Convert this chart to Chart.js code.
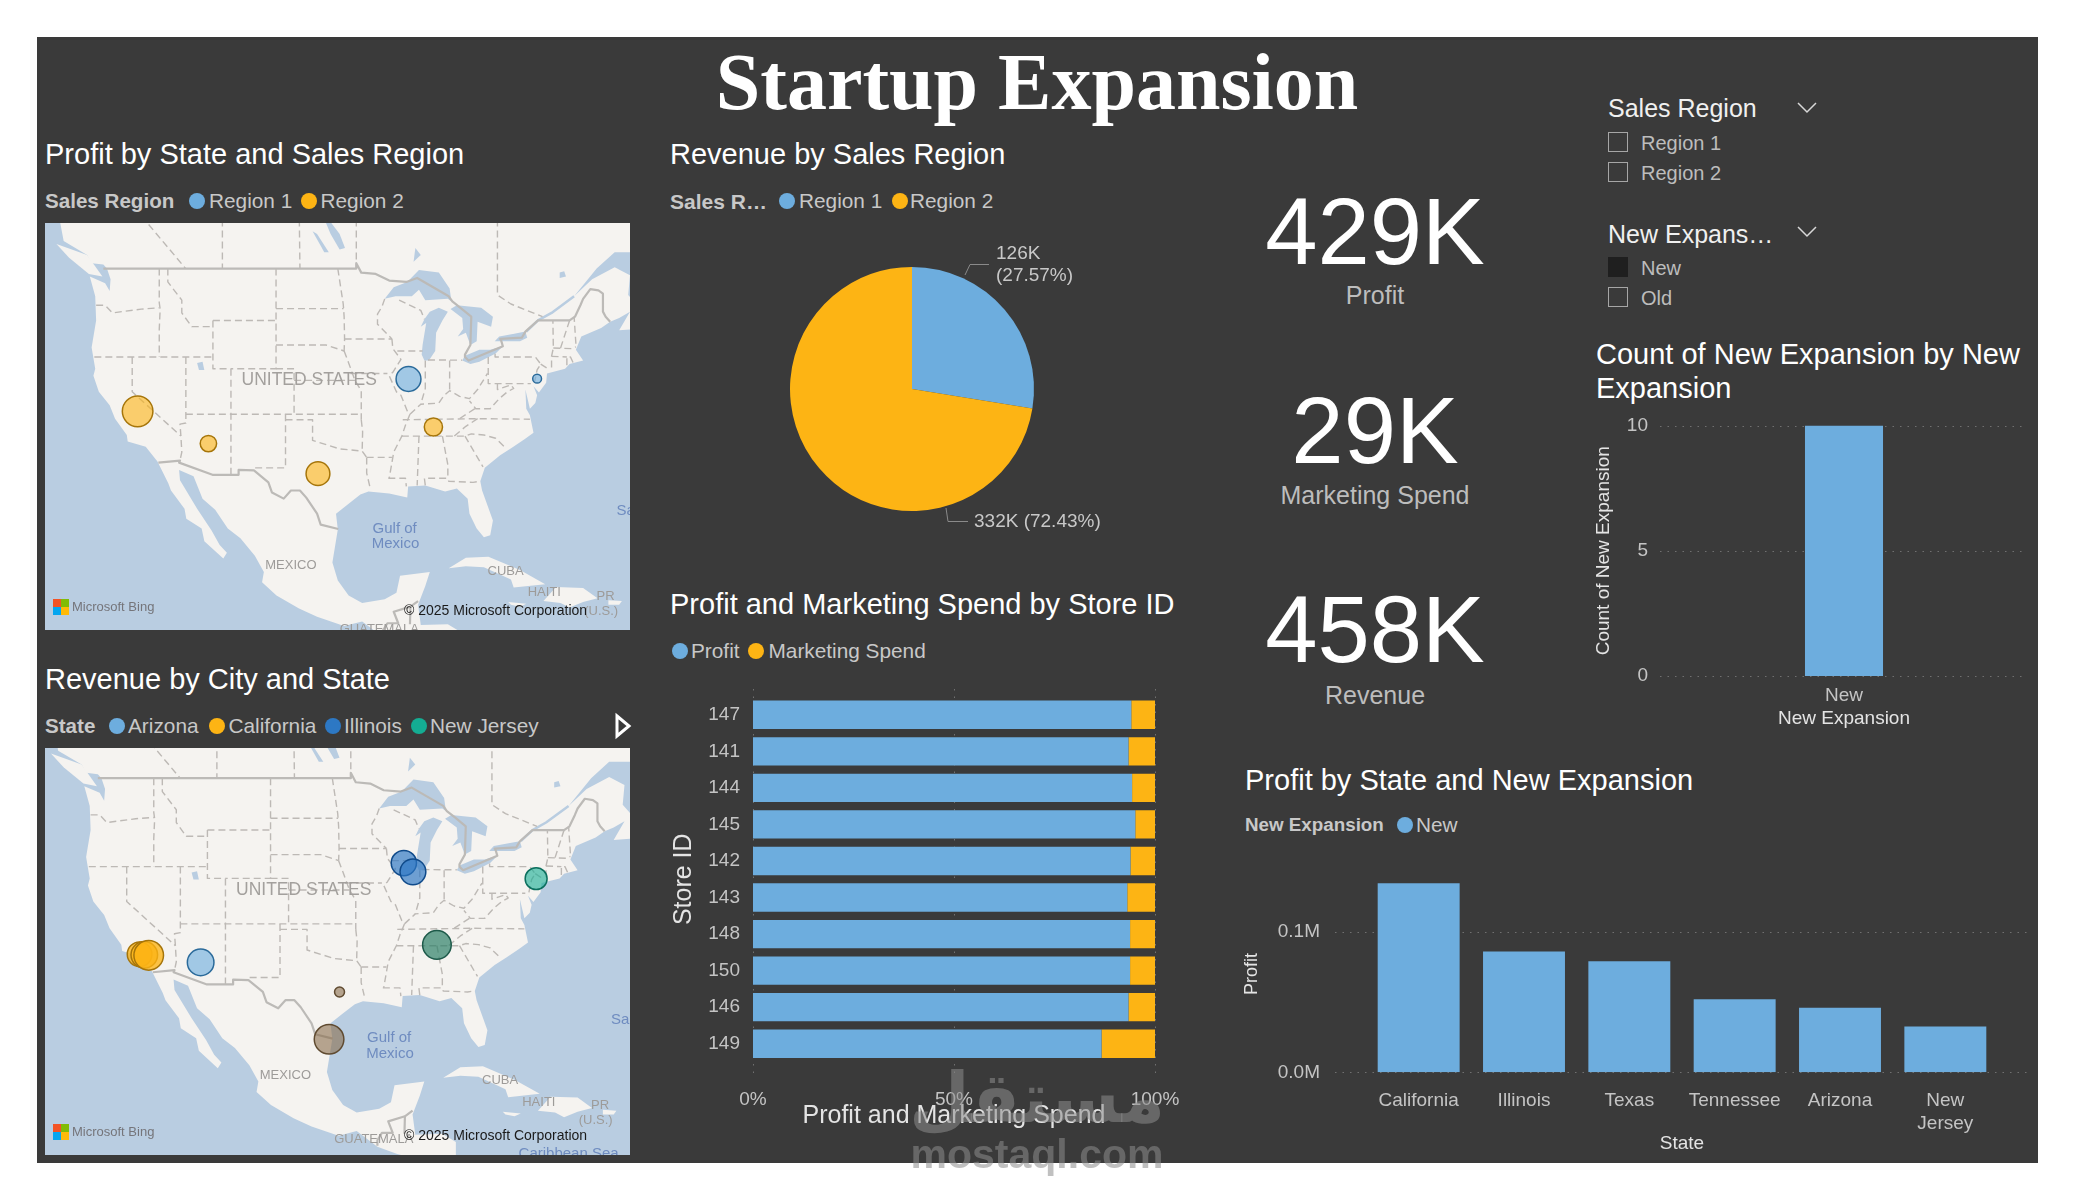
<!DOCTYPE html>
<html>
<head>
<meta charset="utf-8">
<title>Startup Expansion</title>
<script src="https://cdn.jsdelivr.net/npm/chart.js"></script>
<style>
  html, body { margin: 0; padding: 0; background: #fff; overflow: hidden; }
  #page { position: relative; width: 2075px; height: 1200px; font-family: "Liberation Sans", Arial, sans-serif; }
  #panel { position: absolute; left: 37px; top: 37px; width: 2001px; height: 1126px; background: #3a3a3a; }
  #page canvas { position: absolute; }
  .t { position: absolute; white-space: nowrap; line-height: 1; transform: translateY(-50%); }
  .dot { position: absolute; width: 16px; height: 16px; border-radius: 50%; transform: translate(-50%, -50%); }
  .box { position: absolute; width: 18px; height: 18px; border: 1.5px solid #a6a6a6; }
  #page svg { position: absolute; overflow: visible; }
</style>
</head>
<body>
<div id="page"><div id="panel"></div></div>
<script>
// ---- values ----
const regions = ['Region 1', 'Region 2'];
const regionRevenue = [126270, 331730];

const states = ['California', 'Illinois', 'Texas', 'Tennessee', 'Arizona', 'New Jersey'];
const stateTickLabels = ['California', 'Illinois', 'Texas', 'Tennessee', 'Arizona', ['New', 'Jersey']];
const stateProfit = [134400, 86000, 79000, 52000, 46000, 32500];
const stateRegion = ['Region 2', 'Region 1', 'Region 2', 'Region 2', 'Region 2', 'Region 1'];
const stateLon = [-119.4, -89.36, -99.4, -86.6, -111.55, -75.1];
const stateLat = [37.26, 40.12, 31.44, 35.84, 34.3, 40.15];
const profitTicks = [0, 100000];

const cityState = ['California', 'California', 'California', 'Arizona', 'Illinois', 'Illinois', 'New Jersey', 'Tennessee', 'Texas', 'Texas'];
const cityRevenue = [43000, 50000, 62000, 50000, 45000, 47000, 34000, 58000, 7000, 62000];
const cityLon = [-118.57, -118.05, -117.56, -111.8, -89.27, -88.26, -74.6, -85.6, -96.4, -97.56];
const cityLat = [34.2, 34.15, 34.1, 33.44, 42.3, 41.56, 40.98, 35.08, 30.6, 25.88];

const storeIds = ['147', '141', '144', '145', '142', '143', '148', '150', '146', '149'];
const profitShare = [94.1, 93.4, 94.3, 95.1, 93.9, 93.1, 93.8, 93.8, 93.4, 86.7];
const marketingShare = [5.9, 6.6, 5.7, 4.9, 6.1, 6.9, 6.2, 6.2, 6.6, 13.3];

const expansionTypes = ['New'];
const expansionCount = [10];

const kpiValues = ['429K', '29K', '458K'];
const kpiNames = ['Profit', 'Marketing Spend', 'Revenue'];

// ---- base map geography, lon/lat pairs ----
const landMain = [[-128.2,53],[-127.6,51],[-125,50],[-124.5,49.4],[-123.2,49.3],[-122.8,49],[-122.4,48.2],[-122.5,47.3],[-123,47.9],[-124.7,48.4],[-124.1,46.9],[-124,45],[-124.5,42.8],[-124.1,41],[-124.3,40.4],[-123.7,39],[-122.5,37.8],[-121.9,36.6],[-120.6,35.1],[-120.5,34.5],[-118.5,34],[-117.2,32.6],[-116,30.5],[-115.7,29.8],[-114.2,28],[-114,27],[-112.3,26],[-112,24.7],[-109.9,22.9],[-109.5,23.5],[-110.3,24.3],[-111.2,25.8],[-112.8,28],[-114.7,30.8],[-114.8,31.8],[-113.2,31.2],[-112.2,29],[-110.8,27.9],[-109.4,26],[-108,25],[-106.4,23.2],[-105.4,21.5],[-105.6,20.4],[-104,19],[-101.5,17.6],[-99.5,16.7],[-96.5,15.7],[-94.5,16.2],[-92.2,14.5],[-90,13.7],[-87.5,13],[-85,11.5],[-84,10],[-83.5,11],[-83.5,15],[-85,15.9],[-88,15.8],[-88.3,18],[-87.5,20],[-87,21.5],[-90.3,21.1],[-90.7,19.3],[-92,18.6],[-94.5,18.2],[-96,19],[-97.2,20.6],[-97.8,22.5],[-97.2,25.9],[-97.4,27.5],[-96,28.5],[-94.7,29.4],[-93.8,29.7],[-91.5,29.5],[-89.5,29.1],[-89.4,30.2],[-87.5,30.3],[-85.3,29.7],[-84,30],[-82.8,29],[-82.6,27.5],[-81.8,26],[-81,25.1],[-80.3,25.3],[-80,26.8],[-81.2,29.8],[-81.4,30.7],[-80.9,32],[-79.2,33.2],[-77.9,33.9],[-76.5,34.7],[-75.5,35.3],[-75.9,36.9],[-76.3,37.5],[-76.4,39.2],[-75.9,37.5],[-75.3,38],[-75.1,38.7],[-75.5,39.5],[-74.9,38.95],[-74.1,39.8],[-74,40.6],[-72,41],[-71.5,41.4],[-70,41.7],[-70.8,42.6],[-70.2,43.7],[-68,44.4],[-67,44.9],[-66,45.2],[-64.8,45.7],[-66,44.2],[-64,44.3],[-61,45.3],[-60,46.2],[-60.5,47],[-62,45.9],[-64,46.2],[-65,47],[-64.8,48.5],[-66.5,49.1],[-69,48.2],[-71,46.9],[-68.5,49],[-66.5,50.2],[-60,50.2],[-60,54],[-128.2,54]];
const islands = [
  [[-128.4,50.8],[-125,50],[-123.3,48.4],[-124.8,48.6],[-127,49.8]],
  [[-84.9,21.9],[-83,23],[-80.5,23.1],[-77,21.7],[-74.2,20.2],[-77.7,19.85],[-78,20.7],[-81,22],[-83,22.1]],
  [[-74.4,18.4],[-73,19.9],[-70,19.8],[-68.4,18.7],[-70,18.3],[-71.5,17.7],[-72.5,18.2]],
  [[-78.3,18.3],[-76.3,18.1],[-77,17.8],[-78,18]],
  [[-67.2,18.5],[-65.7,18.4],[-66,18],[-67.2,18]]
];
const lakes = [
  [[-92,46.7],[-90.8,46.9],[-89,46.9],[-88.2,47.4],[-87.5,46.6],[-85,46.7],[-84.6,46.5],[-84.8,47.5],[-86,48.7],[-88.2,48.9],[-89.5,48],[-91,47.6]],
  [[-87.6,41.7],[-87.1,41.7],[-86.4,42.5],[-86.3,44],[-85.6,45],[-85,45.7],[-86,46],[-87,45.7],[-87.6,45.1],[-88,44.5],[-87.4,44.8],[-87.8,43],[-87.9,42.2]],
  [[-84.7,45.9],[-83.4,45.2],[-83.3,44.3],[-83.9,43.7],[-83,44],[-82.5,43],[-81.8,43.3],[-81.7,44.9],[-80.2,44.5],[-80,45.3],[-81.3,46],[-84,46.2]],
  [[-83.4,41.7],[-82.5,41.4],[-81.5,41.6],[-79.7,42.3],[-78.9,42.9],[-80.3,42.6],[-81.5,42.6],[-83.1,42.1]],
  [[-79.8,43.3],[-79,43.3],[-77,43.3],[-76.2,43.6],[-76.4,44.1],[-77.5,43.95],[-79.3,43.7]],
  [[-97,50.4],[-96.4,50.5],[-97,51.5],[-98.8,53],[-99,53],[-98,51.5]],
  [[-98.7,50.2],[-98.2,50.2],[-99.5,51.5],[-100,51.7]],
  [[-88.8,49.5],[-88,50],[-88.6,50.5]],
  [[-112.8,41.5],[-112.2,41.6],[-112,40.9],[-112.6,40.9]],
  [[-72.6,48.3],[-71.9,48.4],[-72.1,48.8],[-72.6,48.7]]
];
const stLawrence = [[-76.3,44.1],[-75,45],[-73.5,45.6],[-71,46.9]];
const countryLines = [
  [[-123.2,49],[-95.15,49],[-95.15,49.4],[-94.6,48.7],[-93,48.6],[-91.5,48.1],[-89.6,48],[-88.4,48.3],[-84.9,46.9],[-84.5,46.5],[-83.6,46],[-82.4,45.3],[-82.5,43],[-83.1,42.2],[-83.1,42],[-82.7,41.7],[-78.9,42.9],[-79.1,43.4],[-79.2,43.5],[-76.8,43.6],[-76.4,44.1],[-75,45],[-71.5,45],[-70.9,45.3],[-70.3,46.2],[-70,46.7],[-69.2,47.45],[-68.3,47.35],[-67.8,47.1],[-67.8,45.7],[-67.5,45.3],[-67,44.9]],
  [[-117.1,32.5],[-114.7,32.7],[-114.8,32.5],[-111.1,31.33],[-108.2,31.33],[-108.2,31.8],[-106.5,31.75],[-104.9,30.6],[-104.5,29.6],[-103.2,29],[-102.4,29.8],[-101.4,29.8],[-100.7,29.1],[-99.5,27.5],[-99.1,26.4],[-97.15,25.95]],
  [[-92.2,14.6],[-92.2,15.2],[-91.7,16],[-90.5,16],[-91,17.25],[-89.15,17.8],[-88.3,18.4]],
  [[-89.15,17.8],[-89.2,15.9]]
];
const stateLines = [
  [[-124,46.2],[-123,46.2],[-122.2,45.6],[-119,45.9],[-117,46]],
  [[-117,49],[-117,46.4],[-116.9,45.9],[-117,44.3],[-117,42]],
  [[-124.2,42],[-111.05,42]],
  [[-120,42],[-120,39],[-114.6,35]],
  [[-114.05,42],[-114.05,36.2],[-114.7,36.1],[-114.6,35],[-114.5,33.5],[-114.7,32.7]],
  [[-114.05,37],[-94.6,37]],
  [[-109.05,41],[-109.05,31.3]],
  [[-111.05,45],[-111.05,41],[-109.05,41]],
  [[-111.05,45],[-104.05,45]],
  [[-104.05,49],[-104.05,41],[-109.05,41]],
  [[-116.05,49],[-116.05,48],[-114.5,46.6],[-114.5,45.6],[-113.4,44.5],[-111.05,44.5]],
  [[-104.05,45.94],[-96.56,45.94]],
  [[-104.05,43],[-98.5,43],[-96.5,42.5]],
  [[-104.05,41],[-102.05,41],[-102.05,37]],
  [[-102.05,40],[-95.3,40]],
  [[-96.5,42.5],[-96,41.5],[-95.3,40],[-94.6,39.1],[-94.6,36.5]],
  [[-97.2,49],[-96.6,46.3],[-96.5,45.3],[-96.45,43.5],[-96.5,42.5]],
  [[-96.45,43.5],[-91.2,43.5]],
  [[-92,46.7],[-92.3,46.1],[-92.8,45.5],[-92.8,44.7],[-91.2,43.5]],
  [[-91.2,43.5],[-91.1,42.7],[-90.2,41.8],[-91.1,40.7],[-91.5,40.4],[-90.7,39],[-90.2,38.7],[-89.5,37.3],[-89.2,37],[-89.7,36],[-90.1,35],[-91,33.5],[-91.5,31]],
  [[-95.8,40.6],[-91.7,40.6]],
  [[-90.6,42.5],[-87.8,42.5]],
  [[-90.4,46.6],[-88,45.8],[-87.6,45.1]],
  [[-87.5,41.7],[-87.5,39.3],[-88,37.9]],
  [[-84.8,41.7],[-84.8,39.1]],
  [[-87.2,41.75],[-83.4,41.73]],
  [[-89.2,37],[-88,37.9],[-86,38],[-85.4,38.7],[-84.8,39.1],[-83.7,38.6],[-82.6,38.4],[-81.7,39.2],[-80.6,40.6]],
  [[-80.52,42],[-80.52,39.72],[-75.8,39.72]],
  [[-79.5,39.72],[-79.5,39.2],[-78,39.6],[-77.7,39.3],[-78.4,39],[-79.3,38.4],[-80.3,37.5],[-81.9,37.5],[-82.6,38.2]],
  [[-82,37.5],[-83.7,36.6]],
  [[-90,36.5],[-81.7,36.6],[-75.9,36.55]],
  [[-81.7,36.6],[-83,35.9],[-84.3,35]],
  [[-90.1,35],[-83.1,35],[-82.4,35.2],[-81,35.1],[-79.7,34.8],[-78.6,33.9]],
  [[-83.1,35],[-81.1,32.1]],
  [[-88.2,35],[-88.4,30.3]],
  [[-85.6,35],[-85,32.3],[-85,31]],
  [[-87.5,30.3],[-87.6,31],[-85,31],[-84.9,30.7],[-82.2,30.6],[-81.5,30.7]],
  [[-91.6,31],[-89.7,31],[-89.6,30.2]],
  [[-94,33],[-91.2,33]],
  [[-94,33],[-94,31.5],[-93.6,30]],
  [[-103,37],[-103,32],[-106.6,32]],
  [[-103,36.5],[-100,36.5],[-100,34.6],[-97,33.8],[-94.5,33.6],[-94,33]],
  [[-94.6,36.5],[-94.45,35.4],[-94.5,33.6]],
  [[-79.76,42.27],[-79.76,42],[-75.3,42],[-74.7,41.4],[-75.1,40.9],[-75.4,39.8]],
  [[-74.7,41.4],[-73.9,41]],
  [[-73.5,41.1],[-73.5,42.05],[-73.3,42.75],[-73.35,45]],
  [[-73.5,42.05],[-71.8,42]],
  [[-71.8,41.3],[-71.8,42],[-71.4,42],[-71.1,41.5]],
  [[-72.5,42.75],[-71.5,45]],
  [[-73.3,42.75],[-71.2,42.7],[-70.8,42.85]],
  [[-70.8,43.1],[-71,45.3]],
  [[-120,54],[-120,53.5],[-114.07,49]],
  [[-110,54],[-110,49]],
  [[-101.5,54],[-101.4,49]],
  [[-95.15,54],[-95.15,49]],
  [[-79.5,54],[-79.5,47],[-78,46.3],[-74.5,45.3]]
];
const placeNames = ['UNITED STATES', 'MEXICO', 'Gulf of', 'Mexico', 'CUBA', 'HAITI', 'PR', '(U.S.)', 'GUATEMALA', 'Sargasso Sea', 'Caribbean Sea'];
const placeLon = [-100.37, -102.4, -90.9, -90.8, -78.6, -74.3, -67.5, -68, -92.6, -66.3, -71];
const placeLat = [40, 22.16, 26, 24.4, 21.6, 19.3, 18.95, 17.3, 15.3, 27.8, 13.75];
const placeIsWater = [false, false, true, true, false, false, false, false, false, true, true];

// ---- colours ----
const BLUE = '#6dadde', GOLD = '#fdb414', LAND = '#f5f3f0', WATER = '#b9cde1';
const TICK = '#c4c4c4', AXIS = '#e4e4e4';
const stateInk = {
  Arizona: ['rgba(109,173,222,.62)', '#2a6a9a'],
  California: ['rgba(253,180,20,.78)', '#a6750a'],
  Illinois: ['rgba(45,120,196,.68)', '#0f4a8a'],
  'New Jersey': ['rgba(20,173,147,.6)', '#0c6f5e'],
  Tennessee: ['rgba(40,125,100,.68)', '#1e5a4a'],
  Texas: ['rgba(135,105,70,.58)', '#5f4a30']
};
const regionInk = {
  'Region 1': ['rgba(109,173,222,.62)', '#2a6a9a'],
  'Region 2': ['rgba(253,180,20,.6)', '#a6750a']
};

Chart.defaults.font.family = '"Liberation Sans", Arial, sans-serif';
Chart.defaults.animation = false;
Chart.defaults.responsive = false;
Chart.defaults.plugins.legend.display = false;
Chart.defaults.plugins.tooltip.enabled = false;

// ---- page helpers ----
const page = document.getElementById('page');

function text(str, x, y, size, color, opts = {}) {
  const el = document.createElement('div');
  el.className = 't';
  el.textContent = str;
  el.style.cssText = `left:${x}px;top:${y}px;font-size:${size}px;color:${color};` + (opts.css || '');
  if (opts.bold) el.style.fontWeight = 'bold';
  if (opts.center) el.style.transform = 'translate(-50%,-50%)';
  page.appendChild(el);
  return el;
}

function title(str, x, y) {
  text(str, x, y, 29, '#fff');
}

function legendDot(color, x, y) {
  const el = document.createElement('div');
  el.className = 'dot';
  el.style.cssText = `left:${x}px;top:${y}px;background:${color};`;
  page.appendChild(el);
}

function legendItem(color, dotX, label, labelX, y) {
  legendDot(color, dotX, y);
  text(label, labelX, y, 20.8, '#c8c8c8');
}

function checkbox(x, y, filled) {
  const el = document.createElement('div');
  el.className = 'box';
  el.style.left = x + 'px';
  el.style.top = y + 'px';
  if (filled) { el.style.background = '#1f1f1f'; el.style.borderColor = '#1f1f1f'; }
  page.appendChild(el);
}

function svgShape(markup) {
  const wrap = document.createElementNS('http://www.w3.org/2000/svg', 'svg');
  wrap.setAttribute('width', '1');
  wrap.setAttribute('height', '1');
  wrap.style.left = '0';
  wrap.style.top = '0';
  wrap.innerHTML = markup;
  page.appendChild(wrap);
}

function chevron(cx, cy) {
  svgShape(`<polyline points="${cx - 9},${cy - 5} ${cx},${cy + 4} ${cx + 9},${cy - 5}" fill="none" stroke="#d8d8d8" stroke-width="1.5"/>`);
}

function addCanvas(x, y, w, h) {
  const c = document.createElement('canvas');
  c.width = w;
  c.height = h;
  c.style.left = x + 'px';
  c.style.top = y + 'px';
  c.style.width = w + 'px';
  c.style.height = h + 'px';
  page.appendChild(c);
  return c;
}

// pins a scale's box so the plot area lands on a known rectangle
function fixBox(size) {
  return s => {
    if (s.isHorizontal()) s.height = size; else s.width = size;
    s.paddingLeft = s.paddingRight = s.paddingTop = s.paddingBottom = 0;
  };
}

// dotted gridlines that may run past the plot area
const dottedGrid = {
  id: 'dottedGrid',
  beforeDatasetsDraw(chart, args, opts) {
    const ctx = chart.ctx, scale = chart.scales[opts.axis];
    ctx.save();
    ctx.strokeStyle = '#707070';
    ctx.lineWidth = 1;
    ctx.setLineDash([1.5, 6]);
    scale.ticks.forEach(t => {
      const p = Math.round(scale.getPixelForValue(t.value)) + 0.5;
      ctx.beginPath();
      if (opts.axis === 'y') { ctx.moveTo(opts.from, p); ctx.lineTo(opts.to, p); }
      else { ctx.moveTo(p, opts.from); ctx.lineTo(p, opts.to); }
      ctx.stroke();
    });
    ctx.restore();
  }
};

// Web Mercator northing, expressed in degrees so it shares units with longitude
function merc(lat) {
  const r = lat * Math.PI / 180;
  return Math.log(Math.tan(Math.PI / 4 + r / 2)) * 180 / Math.PI;
}

const baseMap = {
  id: 'baseMap',
  beforeDatasetsDraw(chart) {
    const { ctx, chartArea: a, scales: { x, y } } = chart;
    const px = p => [x.getPixelForValue(p[0]), y.getPixelForValue(merc(p[1]))];
    const trace = pts => {
      ctx.beginPath();
      pts.forEach((p, i) => {
        const [a0, b0] = px(p);
        if (i) ctx.lineTo(a0, b0); else ctx.moveTo(a0, b0);
      });
    };
    ctx.save();
    ctx.beginPath();
    ctx.rect(a.left, a.top, a.right - a.left, a.bottom - a.top);
    ctx.clip();
    ctx.fillStyle = WATER;
    ctx.fillRect(a.left, a.top, a.right - a.left, a.bottom - a.top);
    ctx.fillStyle = LAND;
    ctx.lineJoin = 'round';
    [landMain, ...islands].forEach(poly => { trace(poly); ctx.closePath(); ctx.fill(); });
    ctx.fillStyle = WATER;
    lakes.forEach(poly => { trace(poly); ctx.closePath(); ctx.fill(); });
    ctx.strokeStyle = WATER;
    ctx.lineWidth = 2.5;
    trace(stLawrence);
    ctx.stroke();
    ctx.strokeStyle = '#bdb9b5';
    ctx.lineWidth = 1.4;
    ctx.setLineDash([7, 4]);
    stateLines.forEach(line => { trace(line); ctx.stroke(); });
    ctx.setLineDash([]);
    ctx.strokeStyle = '#bcbab7';
    ctx.lineWidth = 2.2;
    countryLines.forEach(line => { trace(line); ctx.stroke(); });
    ctx.textBaseline = 'middle';
    placeNames.forEach((name, i) => {
      const [tx, ty] = px([placeLon[i], placeLat[i]]);
      const big = name === 'UNITED STATES';
      ctx.font = (big ? '17.5px' : placeIsWater[i] ? '15px' : '13px') + ' "Liberation Sans"';
      ctx.fillStyle = placeIsWater[i] ? '#6f8cc0' : big ? '#a3a09d' : '#9d9b99';
      ctx.textAlign = name === 'Sargasso Sea' ? 'left' : 'center';
      ctx.fillText(name, tx, ty);
    });
    ctx.restore();
  },
  afterDraw(chart) {
    const { ctx, chartArea: a } = chart;
    const logo = [['#f35325', 0, 0], ['#81bc06', 8, 0], ['#05a6f0', 0, 8], ['#ffba08', 8, 8]];
    ctx.save();
    logo.forEach(([c, dx, dy]) => {
      ctx.fillStyle = c;
      ctx.fillRect(a.left + 8 + dx, a.bottom - 31 + dy, 8, 8);
    });
    ctx.textBaseline = 'middle';
    ctx.textAlign = 'left';
    ctx.font = '13px "Liberation Sans"';
    ctx.fillStyle = '#75757a';
    ctx.fillText('Microsoft Bing', a.left + 27, a.bottom - 23);
    ctx.font = '14px "Liberation Sans"';
    ctx.fillStyle = '#1a1a1a';
    ctx.fillText('© 2025 Microsoft Corporation', a.left + 359, a.bottom - 19);
    ctx.restore();
  }
};

function mapChart(box, extent, datasets) {
  return new Chart(addCanvas(box[0], box[1], box[2], box[3]), {
    type: 'bubble',
    data: { datasets },
    plugins: [baseMap],
    options: {
      layout: { autoPadding: false },
      scales: {
        x: { type: 'linear', display: false, min: extent[0], max: extent[1] },
        y: { type: 'linear', display: false, min: extent[2], max: extent[3] }
      }
    }
  });
}

// ---- frame and header ----
text('Startup Expansion', 1037, 82, 80, '#fff', { center: true, bold: true, css: 'font-family:"Liberation Serif",serif;' });

// ---- profit map, bubbles coloured by region ----
title('Profit by State and Sales Region', 45, 154);
text('Sales Region', 45, 201, 20.6, '#c8c8c8', { bold: true });
legendItem(BLUE, 197, regions[0], 209, 201);
legendItem(GOLD, 309, regions[1], 320.5, 201);

const profitRadius = v => 15.3 * Math.cbrt((v - 30000) / 104400);
mapChart([45, 223, 585, 407], [-129.67, -64.8, 15.45, 61.53], regions.map(region => ({
  label: region,
  backgroundColor: regionInk[region][0],
  borderColor: regionInk[region][1],
  borderWidth: 1.5,
  data: states.map((s, i) => ({ region: stateRegion[i], x: stateLon[i], y: merc(stateLat[i]), r: profitRadius(stateProfit[i]) }))
    .filter(d => d.region === region)
})));

// ---- revenue map, one bubble per city ----
title('Revenue by City and State', 45, 679);
text('State', 45, 726, 20.6, '#c8c8c8', { bold: true });
legendItem(BLUE, 117, 'Arizona', 128, 726);
legendItem(GOLD, 217, 'California', 228.5, 726);
legendItem('#2d78c4', 333, 'Illinois', 344, 726);
legendItem('#14ad93', 419, 'New Jersey', 430, 726);
svgShape('<polygon points="617,716 629,726 617,736" fill="none" stroke="#fff" stroke-width="3"/>');

const cityRadius = v => 1.88 * Math.sqrt(v / 1000);
mapChart([45, 748, 585, 407], [-129.06, -64.19, 13.71, 59.79], Object.keys(stateInk).map(state => ({
  label: state,
  backgroundColor: stateInk[state][0],
  borderColor: stateInk[state][1],
  borderWidth: 1.5,
  data: cityState.map((s, i) => ({ state: s, x: cityLon[i], y: merc(cityLat[i]), r: cityRadius(cityRevenue[i]) }))
    .filter(d => d.state === state)
})));

// ---- revenue pie ----
title('Revenue by Sales Region', 670, 154);
text('Sales R…', 670, 201, 21, '#c8c8c8', { bold: true });
legendItem(BLUE, 787, regions[0], 799, 201);
legendItem(GOLD, 900, regions[1], 910, 201);

const pieLabels = {
  id: 'pieLabels',
  afterDatasetsDraw(chart) {
    const ctx = chart.ctx, total = regionRevenue.reduce((a, b) => a + b, 0);
    const k = i => Math.round(regionRevenue[i] / 1000) + 'K';
    const pct = i => '(' + (regionRevenue[i] / total * 100).toFixed(2) + '%)';
    ctx.save();
    ctx.strokeStyle = '#8a8a8a';
    ctx.lineWidth = 1;
    ctx.beginPath();
    ctx.moveTo(185, 35); ctx.lineTo(190, 24.5); ctx.lineTo(209, 24.5);
    ctx.moveTo(166, 268); ctx.lineTo(168, 281.5); ctx.lineTo(188, 281.5);
    ctx.stroke();
    ctx.fillStyle = '#c8c8c8';
    ctx.font = '19px "Liberation Sans"';
    ctx.textBaseline = 'middle';
    ctx.fillText(k(0), 216, 14);
    ctx.fillText(pct(0), 216, 36);
    ctx.fillText(k(1) + ' ' + pct(1), 194, 281.5);
    ctx.restore();
  }
};
new Chart(addCanvas(780, 240, 340, 300), {
  type: 'pie',
  data: { labels: regions, datasets: [{ data: regionRevenue, backgroundColor: [BLUE, GOLD], borderWidth: 0, radius: 122 }] },
  plugins: [pieLabels],
  options: { layout: { padding: { right: 76, bottom: 2 } } }
});

// ---- 100% stacked bars by store ----
title('Profit and Marketing Spend by Store ID', 670, 604);
legendItem(BLUE, 680, 'Profit', 691, 651);
legendItem(GOLD, 756, 'Marketing Spend', 768.5, 651);

new Chart(addCanvas(660, 680, 540, 456), {
  type: 'bar',
  data: {
    labels: storeIds,
    datasets: [
      { label: 'Profit', data: profitShare, backgroundColor: BLUE },
      { label: 'Marketing Spend', data: marketingShare, backgroundColor: GOLD }
    ]
  },
  plugins: [dottedGrid],
  options: {
    indexAxis: 'y',
    layout: { padding: { top: 16.5, right: 45 } },
    datasets: { bar: { barPercentage: 0.775, categoryPercentage: 1 } },
    plugins: { dottedGrid: { axis: 'x', from: 9, to: 395 } },
    scales: {
      x: {
        stacked: true, min: 0, max: 100,
        grid: { display: false }, border: { display: false },
        ticks: { stepSize: 50, padding: 18, color: TICK, font: { size: 19 }, maxRotation: 0, callback: v => v + '%' },
        title: { display: true, text: 'Profit and Marketing Spend', color: AXIS, font: { size: 25 }, padding: { top: 0, bottom: 5 } },
        afterFit: fixBox(74)
      },
      y: {
        stacked: true,
        grid: { display: false }, border: { display: false },
        ticks: { padding: 5, color: TICK, font: { size: 19 } },
        title: { display: true, text: 'Store ID', color: AXIS, font: { size: 25 }, padding: { top: 9, bottom: 0 } },
        afterFit: fixBox(93)
      }
    }
  }
});

// ---- KPI cards ----
[232, 431, 630].forEach((y, i) => text(kpiValues[i], 1375, y, 94, '#fff', { center: true }));
[295, 495, 695].forEach((y, i) => text(kpiNames[i], 1375, y, 25, '#bdbdbd', { center: true }));

// ---- slicers ----
text('Sales Region', 1608, 108, 25, '#f0f0f0');
chevron(1807, 108);
checkbox(1608, 132, false);
text(regions[0], 1641, 142.5, 20, '#bdbdbd');
checkbox(1608, 162, false);
text(regions[1], 1641, 172.5, 20, '#bdbdbd');
text('New Expans…', 1608, 233.5, 25, '#f0f0f0');
chevron(1807, 232);
checkbox(1608, 257, true);
text('New', 1641, 267.5, 20, '#bdbdbd');
checkbox(1608, 287, false);
text('Old', 1641, 297.5, 20, '#bdbdbd');

// ---- count of new expansion ----
text('Count of New Expansion by New', 1596, 354, 29, '#fff');
text('Expansion', 1596, 388, 29, '#fff');

new Chart(addCanvas(1590, 410, 440, 325), {
  type: 'bar',
  data: { labels: expansionTypes, datasets: [{ data: expansionCount, backgroundColor: BLUE }] },
  plugins: [dottedGrid],
  options: {
    layout: { padding: { top: 15.5, right: 7 } },
    datasets: { bar: { barPercentage: 0.218, categoryPercentage: 1 } },
    plugins: { dottedGrid: { axis: 'y', from: 70, to: 433 } },
    scales: {
      x: {
        grid: { display: false }, border: { display: false },
        ticks: { padding: 0, color: TICK, font: { size: 19 } },
        title: { display: true, text: 'New Expansion', color: AXIS, font: { size: 19 }, padding: { top: 0, bottom: 5 } },
        afterFit: fixBox(59)
      },
      y: {
        min: 0, max: 10,
        grid: { display: false }, border: { display: false },
        ticks: { stepSize: 5, padding: 9, color: TICK, font: { size: 19 } },
        title: { display: true, text: 'Count of New Expansion', color: AXIS, font: { size: 19 }, padding: { top: 2, bottom: 0 } },
        afterFit: fixBox(75)
      }
    }
  }
});

// ---- profit by state ----
text('Profit by State and New Expansion', 1245, 780, 29, '#fff');
text('New Expansion', 1245, 825, 18.8, '#c8c8c8', { bold: true });
legendItem(BLUE, 1405, 'New', 1416, 825);

new Chart(addCanvas(1240, 860, 790, 300), {
  type: 'bar',
  data: { labels: stateTickLabels, datasets: [{ data: stateProfit, backgroundColor: BLUE }] },
  plugins: [dottedGrid],
  options: {
    layout: { padding: { top: 15.5, right: 32 } },
    datasets: { bar: { barPercentage: 0.778, categoryPercentage: 1 } },
    plugins: { dottedGrid: { axis: 'y', from: 95, to: 787 } },
    scales: {
      x: {
        grid: { display: false }, border: { display: false },
        ticks: { padding: 9, color: TICK, font: { size: 19 }, maxRotation: 0, autoSkip: false },
        title: { display: true, text: 'State', color: AXIS, font: { size: 19 }, padding: { top: 0, bottom: 5 } },
        afterFit: fixBox(87.7)
      },
      y: {
        min: 0, max: 140000,
        grid: { display: false }, border: { display: false },
        afterBuildTicks: s => { s.ticks = profitTicks.map(value => ({ value })); },
        ticks: { autoSkip: false, padding: 38, color: TICK, font: { size: 19 }, callback: v => (v / 1e6).toFixed(1) + 'M' },
        title: { display: true, text: 'Profit', color: AXIS, font: { size: 18 }, padding: { top: 1, bottom: 0 } },
        afterFit: fixBox(126)
      }
    }
  }
});

// ---- site mark over the lower middle of the board ----
text('مستقل', 1037, 1098, 70, 'rgba(140,140,140,.55)', { center: true, bold: true, css: 'font-family:"DejaVu Sans",sans-serif;' });
text('mostaql.com', 1037, 1154, 41, 'rgba(140,140,140,.55)', { center: true, bold: true });
</script>
</body>
</html>
